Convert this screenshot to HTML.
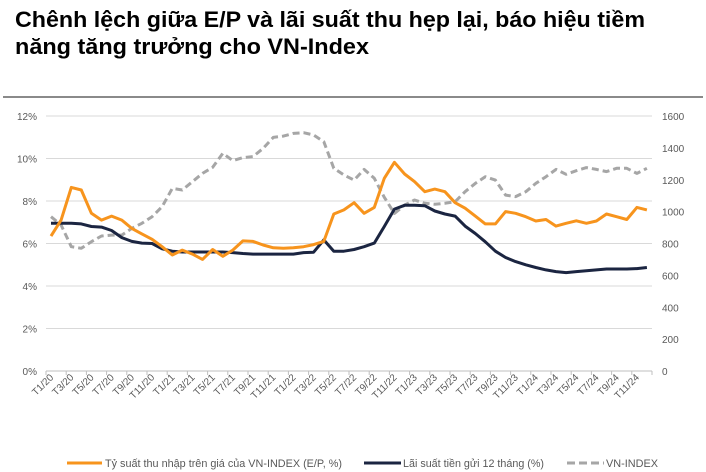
<!DOCTYPE html>
<html><head><meta charset="utf-8"><style>
html,body{margin:0;padding:0;background:#fff;}
svg{display:block;font-family:"Liberation Sans","Noto Sans CJK SC",sans-serif;}
</style></head><body>
<svg id="chart" width="706" height="472" viewBox="0 0 706 472">
<text x="15" y="27" font-size="22" font-weight="bold" fill="#000" textLength="630" lengthAdjust="spacingAndGlyphs">Chênh lệch giữa E/P và lãi suất thu hẹp lại, báo hiệu tiềm</text>
<text x="15" y="54" font-size="22" font-weight="bold" fill="#000" textLength="354" lengthAdjust="spacingAndGlyphs">năng tăng trưởng cho VN-Index</text>
<line x1="3" y1="97" x2="703" y2="97" stroke="#8a8a8a" stroke-width="2"/>
<g id="grid"></g><g id="axes"></g><g id="series"></g>
<g>
<line x1="67" y1="463" x2="102" y2="463" stroke="#f7941d" stroke-width="3"/>
<text x="105" y="467" font-size="11" fill="#595959" textLength="237" lengthAdjust="spacingAndGlyphs">Tỷ suất thu nhập trên giá của VN-INDEX (E/P, %)</text>
<line x1="364" y1="463" x2="401" y2="463" stroke="#1b2541" stroke-width="3"/>
<text x="403" y="467" font-size="11" fill="#595959" textLength="141" lengthAdjust="spacingAndGlyphs">Lãi suất tiền gửi 12 tháng (%)</text>
<line x1="567" y1="463" x2="604" y2="463" stroke="#a6a6a6" stroke-width="3" stroke-dasharray="8,4"/>
<text x="606" y="467" font-size="11" fill="#595959" textLength="52" lengthAdjust="spacingAndGlyphs">VN-INDEX</text>
</g>
</svg>
<script>
const months = [];
for (let y = 20; y <= 24; y++) for (let m = 1; m <= 12; m++) months.push('T' + m + '/' + y);
const epYield = [6.35,7.1,8.64,8.52,7.42,7.1,7.29,7.1,6.71,6.45,6.2,5.85,5.46,5.69,5.5,5.25,5.72,5.4,5.69,6.12,6.1,5.93,5.8,5.78,5.8,5.85,5.95,6.1,7.39,7.58,7.92,7.42,7.7,9.07,9.82,9.27,8.91,8.44,8.56,8.44,7.92,7.66,7.29,6.92,6.92,7.5,7.42,7.26,7.06,7.13,6.82,6.95,7.07,6.95,7.06,7.39,7.26,7.13,7.7,7.58];
const depositRate = [6.95,6.95,6.95,6.92,6.8,6.77,6.61,6.28,6.1,6.02,6.0,5.75,5.64,5.6,5.6,5.6,5.6,5.6,5.57,5.53,5.5,5.5,5.5,5.5,5.5,5.57,5.59,6.17,5.64,5.64,5.72,5.85,6.02,6.8,7.62,7.8,7.8,7.78,7.53,7.39,7.29,6.82,6.47,6.08,5.64,5.34,5.15,5.0,4.87,4.76,4.68,4.63,4.68,4.72,4.76,4.8,4.8,4.8,4.82,4.87];
const vnIndex = [968,916,780,770,811,847,853,853,895,927,968,1031,1146,1136,1188,1240,1278,1366,1320,1339,1345,1397,1466,1474,1491,1495,1481,1439,1272,1230,1198,1265,1209,1090,989,1041,1073,1052,1046,1052,1062,1125,1177,1219,1198,1104,1094,1125,1177,1219,1265,1234,1257,1276,1265,1251,1272,1272,1240,1272];
const leftTicks = [0,2,4,6,8,10,12];
const rightTicks = [0,200,400,600,800,1000,1200,1400,1600];

const NS = 'http://www.w3.org/2000/svg';
const X0 = 46, X1 = 652, Y0 = 371, Y1 = 116;
const step = (X1 - X0) / months.length;
const xPos = i => X0 + (i + 0.5) * step;
const yL = v => Y0 - v / 12 * (Y0 - Y1);
const yR = v => Y0 - v / 1600 * (Y0 - Y1);
function mk(tag, attrs, parent) { const e = document.createElementNS(NS, tag); for (const k in attrs) e.setAttribute(k, attrs[k]); parent.appendChild(e); return e; }
const grid = document.getElementById('grid'), axes = document.getElementById('axes'), series = document.getElementById('series');

leftTicks.forEach(t => {
  const y = yL(t);
  const gl = mk('line', {x1: X0, x2: X1, y1: y, y2: y, stroke: t === 0 ? '#bfbfbf' : '#d9d9d9', 'stroke-width': 1}, grid);
  
  
  const tx = mk('text', {x: 37, y: y + 4, 'font-size': 10, fill: '#595959', 'text-anchor': 'end'}, axes);
  tx.textContent = t + '%';
  
  
});
rightTicks.forEach(t => {
  const tx = mk('text', {x: 662, y: yR(t) + 4, 'font-size': 10, fill: '#595959'}, axes);
  tx.textContent = t;
  
  
});
for (let i = 0; i <= months.length; i += 2) {
  const x = X0 + i * step;
  const tk = mk('line', {x1: x, x2: x, y1: Y0, y2: Y0 + 4, stroke: '#bfbfbf'}, axes);
  
  
}
months.forEach((m, i) => {
  if (i % 2) return;
  const x = xPos(i) + 3, y = 378;
  const tx = mk('text', {x: x, y: y, 'font-size': 10, fill: '#595959', 'text-anchor': 'end', transform: 'rotate(-45 ' + x + ' ' + y + ')'}, axes);
  tx.textContent = m;
  
  
});
function line(data, yf, attrs, name) {
  const d = data.map((v, i) => (i ? 'L' : 'M') + xPos(i).toFixed(1) + ',' + yf(v).toFixed(1)).join('');
  const p = mk('path', Object.assign({d: d, fill: 'none', 'stroke-linejoin': 'round'}, attrs), series);
  
  
}
line(vnIndex, yR, {stroke: '#a6a6a6', 'stroke-width': 3, 'stroke-dasharray': '7,4'}, 'vnindex-line');
line(depositRate, yL, {stroke: '#1b2541', 'stroke-width': 3}, 'deposit-rate-line');
line(epYield, yL, {stroke: '#f7941d', 'stroke-width': 3}, 'ep-yield-line');
</script>
</body></html>
